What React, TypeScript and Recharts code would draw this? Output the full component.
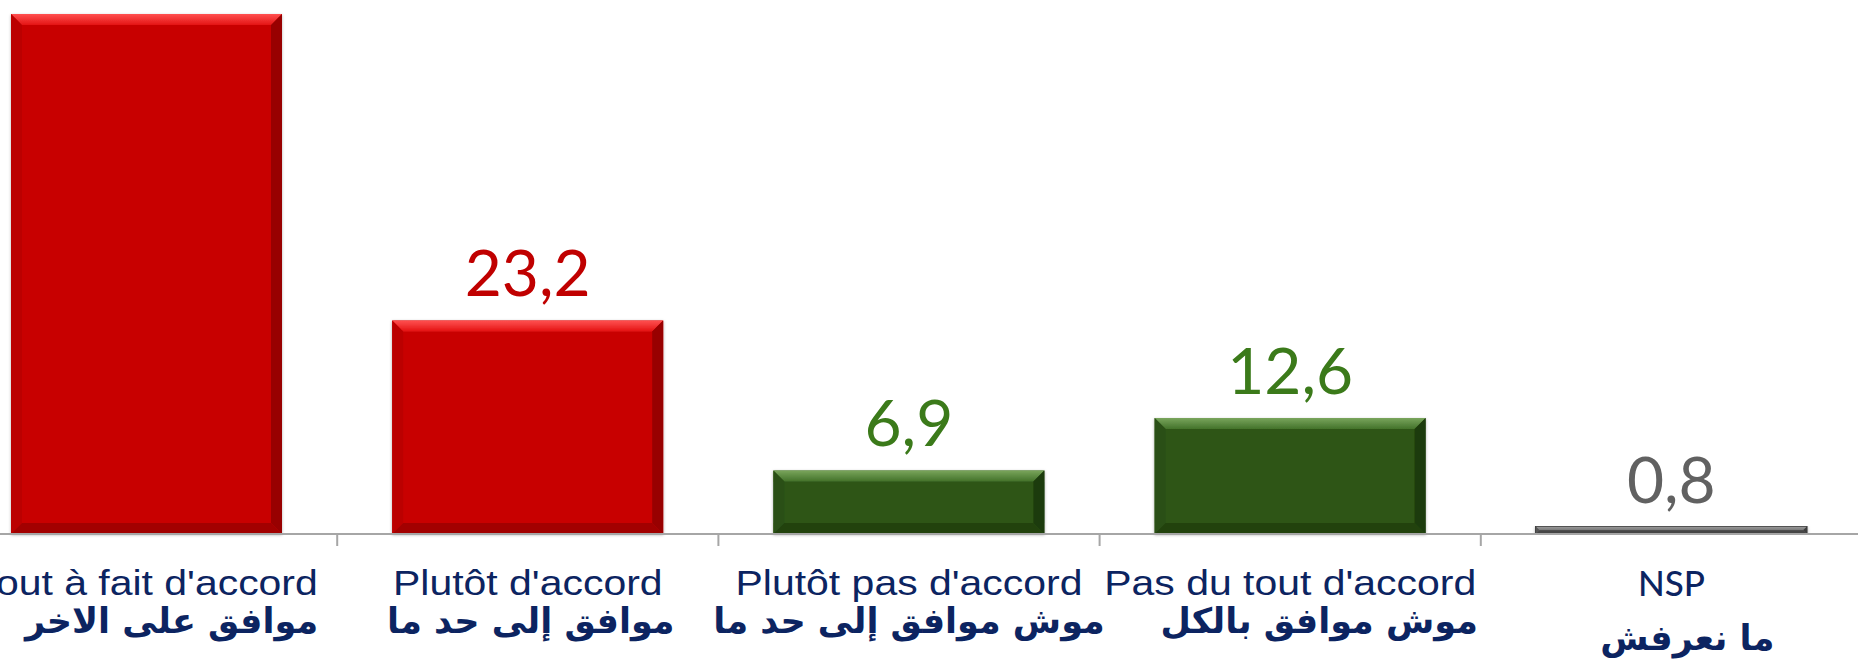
import React from 'react';
import { BarChart, Bar, XAxis, YAxis, LabelList } from 'recharts';

const categoriesFr = [
  "Tout à fait d'accord",
  "Plutôt d'accord",
  "Plutôt pas d'accord",
  "Pas du tout d'accord",
  'NSP',
];
const categoriesAr = [
  'موافق على الاخر',
  'موافق إلى حد ما',
  'موش موافق إلى حد ما',
  'موش موافق بالكل',
  'ما نعرفش',
];
const values = [56.5, 23.2, 6.9, 12.6, 0.8];

const data = categoriesFr.map((name, i) => ({ name, ar: categoriesAr[i], value: values[i] }));

// chart geometry (the original is cropped on the left and at the top)
const CHART_W = 1950;
const CHART_H = 661;
const SHIFT_X = -44;
const MARGIN = { top: 14, right: 44, left: 0, bottom: 0 };
const PLOT_W = CHART_W - MARGIN.left - MARGIN.right;
const BAND = PLOT_W / categoriesFr.length;

const NAVY = '#0c2461';

const barStyles = [
  { key: 'red', base: '#c80606', left: '#bb0404', right: '#980000', bottom: '#a20000' },
  { key: 'red', base: '#c80606', left: '#bb0404', right: '#980000', bottom: '#a20000' },
  { key: 'green', base: '#2d5516', left: '#2a5014', right: '#1c3a0b', bottom: '#21420e' },
  { key: 'green', base: '#2d5516', left: '#2a5014', right: '#1c3a0b', bottom: '#21420e' },
  { key: 'gray', base: '#6b6b6b', left: '#555555', right: '#3e3e3e', bottom: '#444444' },
];
const labelColors = ['#c00000', '#c00000', '#3b7a1a', '#3b7a1a', '#616161'];
// small horizontal nudges of the arabic lines, as in the source slide
const arabicNudge = [25, 3, 0, 29, 16];

function BevelBar(props: any) {
  const { x, y, width, height, index } = props;
  const s = barStyles[index];
  const b = Math.min(11, height / 2);
  const r = x + width;
  const bt = y + height;
  return (
    <g filter="url(#barShadow)">
      <rect x={x} y={y} width={width} height={height} fill={s.base} stroke={index === 4 ? '#3a3a3a' : 'none'} strokeWidth={1.5} />
      <polygon points={`${x},${y} ${r},${y} ${r - b},${y + b} ${x + b},${y + b}`} fill={`url(#top-${s.key})`} />
      <polygon points={`${x},${y} ${x + b},${y + b} ${x + b},${bt - b} ${x},${bt}`} fill={s.left} />
      <polygon points={`${r},${y} ${r},${bt} ${r - b},${bt - b} ${r - b},${y + b}`} fill={s.right} />
      <polygon points={`${x},${bt} ${x + b},${bt - b} ${r - b},${bt - b} ${r},${bt}`} fill={s.bottom} />
    </g>
  );
}

function CategoryTick(props: any) {
  const { x, y, index } = props;
  const isNsp = index === categoriesFr.length - 1;
  return (
    <g>
      <line x1={x + BAND / 2} y1={y} x2={x + BAND / 2} y2={y + 12} stroke="#a6a6a6" strokeWidth={2} />
      {isNsp ? (
        <text x={x} y={y + 62} textAnchor="middle" fontFamily="Lato" fontWeight={500} fontSize={35} fill={NAVY}>
          {categoriesFr[index]}
        </text>
      ) : (
        <g transform={`translate(${x},${y + 61}) scale(1.17,1)`}>
          <text x={0} y={0} textAnchor="middle" fontFamily="'Liberation Sans', Arial" fontSize={35} fill={NAVY}>
            {categoriesFr[index]}
          </text>
        </g>
      )}
      <text
        x={x + arabicNudge[index]}
        y={y + (isNsp ? 116 : 99)}
        textAnchor="middle"
        direction="rtl"
        fontFamily="'DejaVu Sans'"
        fontWeight="bold"
        fontSize={35}
        fill={NAVY}
      >
        {categoriesAr[index]}
      </text>
    </g>
  );
}

const renderValue = (props: any) => {
  const { x, y, width, value, index } = props;
  return (
    <text x={x + width / 2} y={y - 24} textAnchor="middle" fontFamily="Lato" fontSize={64} fill={labelColors[index]}>
      {String(value).replace('.', ',')}
    </text>
  );
};

export default function App() {
  return (
    <div style={{ position: 'absolute', left: 0, top: 0, width: 1858, height: 661, overflow: 'hidden', background: '#fff' }}>
      <BarChart
        width={CHART_W}
        height={CHART_H}
        data={data}
        margin={MARGIN}
        barSize={271}
        style={{ position: 'absolute', left: SHIFT_X, top: 0 }}
      >
        <defs>
          <filter id="barShadow" x="-5%" y="-5%" width="110%" height="115%">
            <feDropShadow dx="0" dy="1" stdDeviation="1.5" floodColor="#000" floodOpacity="0.3" />
          </filter>
          <linearGradient id="top-red" x1="0" y1="0" x2="0" y2="1">
            <stop offset="0%" stopColor="#ff5050" />
            <stop offset="100%" stopColor="#e41414" />
          </linearGradient>
          <linearGradient id="top-green" x1="0" y1="0" x2="0" y2="1">
            <stop offset="0%" stopColor="#79a55c" />
            <stop offset="100%" stopColor="#43722a" />
          </linearGradient>
          <linearGradient id="top-gray" x1="0" y1="0" x2="0" y2="1">
            <stop offset="0%" stopColor="#9a9a9a" />
            <stop offset="100%" stopColor="#777777" />
          </linearGradient>
        </defs>
        <XAxis
          dataKey="name"
          height={CHART_H - 534}
          axisLine={{ stroke: '#a6a6a6', strokeWidth: 2 }}
          tickLine={false}
          tickSize={0}
          tickMargin={0}
          interval={0}
          tick={<CategoryTick />}
        />
        <YAxis hide domain={[0, 'dataMax']} />
        <Bar dataKey="value" shape={<BevelBar />} isAnimationActive={false}>
          <LabelList dataKey="value" content={renderValue} />
        </Bar>
      </BarChart>
    </div>
  );
}
